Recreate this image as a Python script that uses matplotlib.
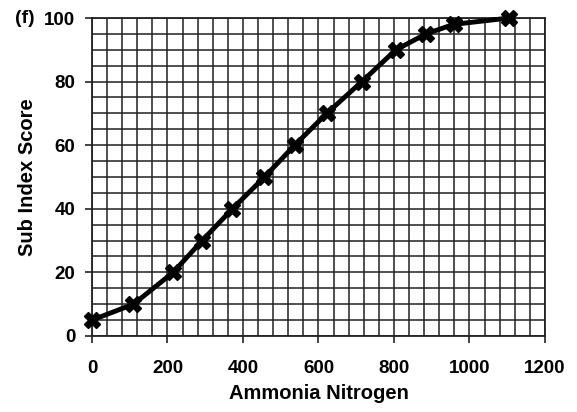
import numpy as np
import matplotlib.pyplot as plt
from matplotlib.ticker import MultipleLocator

plt.rcParams['font.family'] = ['Liberation Sans', 'DejaVu Sans']

# ammonia nitrogen vs. sub index score
ammonia = [0, 110, 215, 292, 372, 457, 537, 622, 715, 805, 885, 958, 1105]
score = [5, 10, 20, 30, 40, 50, 60, 70, 80, 90, 95, 98, 100]

fig = plt.figure(figsize=(5.77, 4.12), dpi=100)
ax = fig.add_axes([0.1594, 0.1845, 0.7851, 0.7718])

ax.set_xlim(0, 1200)
ax.set_ylim(0, 100)
ax.xaxis.set_major_locator(MultipleLocator(200))
ax.yaxis.set_major_locator(MultipleLocator(20))
ax.xaxis.set_minor_locator(MultipleLocator(40))
ax.yaxis.set_minor_locator(MultipleLocator(5))

# graph-paper style grid
ax.grid(which='both', color='#222222', linewidth=1.3, alpha=0.85)
ax.tick_params(which='minor', length=0)
ax.tick_params(which='major', direction='out', length=5, width=1.2,
               color='#222222', labelsize=13.5)
ax.tick_params(axis='x', pad=12)
ax.tick_params(axis='y', pad=7)
for lab in ax.get_xticklabels() + ax.get_yticklabels():
    lab.set_fontweight('bold')
for s in ax.spines.values():
    s.set_color('#222222')
    s.set_linewidth(1.3)

ax.plot(ammonia, score, color='black', linewidth=3.5, marker='X',
        markersize=12, markerfacecolor='black', markeredgecolor='black',
        clip_on=False, zorder=5)

ax.set_xlabel('Ammonia Nitrogen', fontsize=14.5, fontweight='bold', labelpad=5)
ax.set_ylabel('Sub Index Score', fontsize=14.5, fontweight='bold', labelpad=5)
fig.text(0.026, 0.955, '(f)', fontsize=14, fontweight='bold', va='center')

fig.savefig('out.png', dpi=100)
